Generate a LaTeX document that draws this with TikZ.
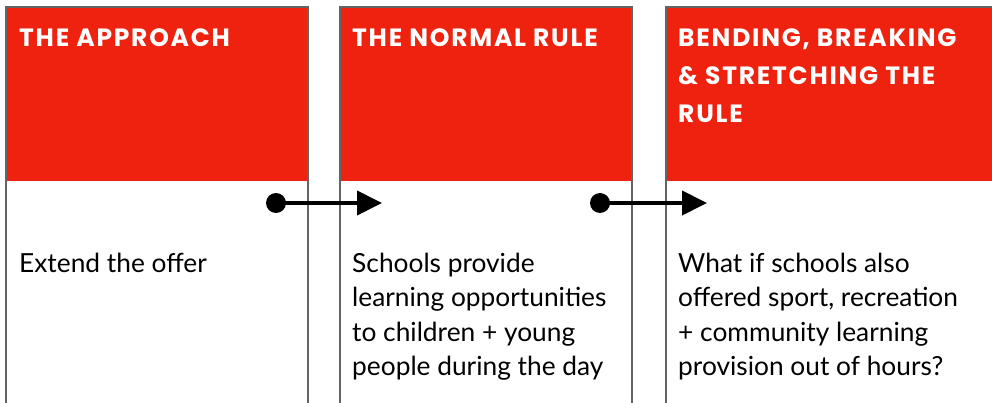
\documentclass[tikz,border=0pt]{standalone}
\usepackage{fontspec}
\setmainfont{Lato}
\newfontfamily\hdrfont{Poppins}[LetterSpace=7]
\usetikzlibrary{arrows.meta}
\definecolor{hdrred}{RGB}{238,34,14}
\definecolor{edgegray}{RGB}{100,100,100}
\tikzset{
  colborder/.style={draw=edgegray, line width=2pt},
  hdrfill/.style={fill=hdrred},
  hdrtext/.style={anchor=base west, inner sep=0pt, align=left, text=white,
    font=\hdrfont\bfseries\fontsize{25}{38}\selectfont},
  bodytext/.style={anchor=base west, inner sep=0pt, align=left, text=black,
    font=\fontsize{26.3}{34.5}\selectfont},
  flowarrow/.style={line width=4pt, -{Triangle[length=25pt,width=24pt]}},
  flowdot/.style={fill=black}
}
\begin{document}
\begin{tikzpicture}[x=1pt,y=-1pt]
\useasboundingbox (0,0) rectangle (992,403);
% header fills
\fill[hdrfill] (6,7) rectangle (308,181);
\fill[hdrfill] (340,7) rectangle (632,181);
\fill[hdrfill] (666,7) rectangle (995,181);
% column borders
\draw[colborder] (6,410) -- (6,7) -- (308,7) -- (308,410);
\draw[colborder] (340,410) -- (340,7) -- (632,7) -- (632,410);
\draw[colborder] (666,410) -- (666,7) -- (996,7) -- (996,410);
% headers (base anchor = last line baseline)
\node[hdrtext] (h1) at (19,46.5) {THE APPROACH};
\node[hdrtext] (h2) at (352,46.5) {THE NORMAL RULE};
\node[hdrtext] (h3) at (678,122.5) {BENDING, BREAKING\\ \& STRETCHING THE\\ RULE};
% bodies
\node[bodytext] (b1) at (19,272) {Extend the offer};
\node[bodytext] (b2) at (352,375.5) {Schools provide\\ learning opportunities\\ to children + young\\ people during the day};
\node[bodytext] (b3) at (678,375.5) {What if schools also\\ offered sport, recreation\\ + community learning\\ provision out of hours?};
% arrows
\coordinate (a1s) at (276,203);
\coordinate (a1e) at (382,203);
\coordinate (a2s) at (600,203);
\coordinate (a2e) at (707,203);
\fill[flowdot] (a1s) circle (10pt);
\fill[flowdot] (a2s) circle (10pt);
\draw[flowarrow] (a1s) -- (a1e);
\draw[flowarrow] (a2s) -- (a2e);
\end{tikzpicture}
\end{document}
